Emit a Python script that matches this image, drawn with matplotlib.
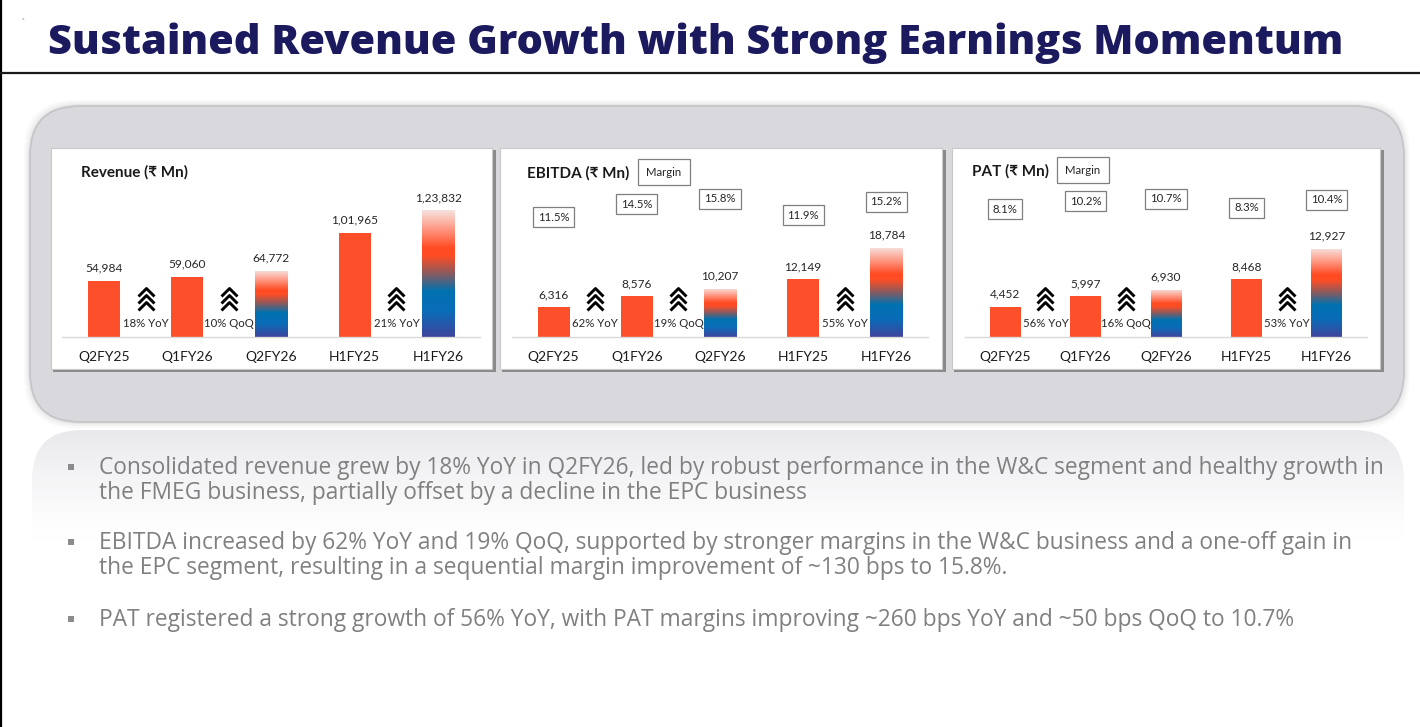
import matplotlib
matplotlib.use("Agg")
import matplotlib.pyplot as plt
import numpy as np
from matplotlib.patches import FancyBboxPatch, Rectangle
from matplotlib.colors import LinearSegmentedColormap
from matplotlib.path import Path
from matplotlib.transforms import blended_transform_factory

# ---- data ----
periods = ["Q2FY25", "Q1FY26", "Q2FY26", "H1FY25", "H1FY26"]
revenue = [54984, 59060, 64772, 101965, 123832]
ebitda = [6316, 8576, 10207, 12149, 18784]
pat = [4452, 5997, 6930, 8468, 12927]
ebitda_margin = ["11.5%", "14.5%", "15.8%", "11.9%", "15.2%"]
pat_margin = ["8.1%", "10.2%", "10.7%", "8.3%", "10.4%"]
revenue_growth = ["18% YoY", "10% QoQ", "21% YoY"]
ebitda_growth = ["62% YoY", "19% QoQ", "55% YoY"]
pat_growth = ["56% YoY", "16% QoQ", "53% YoY"]
growth_slots = [0.5, 1.5, 3.5]
highlight = [False, False, True, False, True]

title = "Sustained Revenue Growth with Strong Earnings Momentum"
bullets = [
    ["Consolidated revenue grew by 18% YoY in Q2FY26, led by robust performance in the W&C segment and healthy growth in",
     "the FMEG business, partially offset by a decline in the EPC business"],
    ["EBITDA increased by 62% YoY and 19% QoQ, supported by stronger margins in the W&C business and a one-off gain in",
     "the EPC segment, resulting in a sequential margin improvement of ~130 bps to 15.8%."],
    ["PAT registered a strong growth of 56% YoY, with PAT margins improving ~260 bps YoY and ~50 bps QoQ to 10.7%"],
]

W, H = 1420, 727
NAVY = "#1c1a5e"
BAR = "#fe4f2b"
GREY_TXT = "#808080"
FONT = ["Lato", "DejaVu Sans"]

grad_cmap = LinearSegmentedColormap.from_list("bar", [
    (0.00, "#3f449c"), (0.20, "#0a6cb8"), (0.36, "#0072b0"),
    (0.50, "#8a5a5e"), (0.64, "#ff4d24"), (0.70, "#ff4a22"),
    (0.86, "#ff9c88"), (1.00, "#f6e2df")])
chevron = Path([(-1, -0.5), (0, 0.5), (1, -0.5)],
               [Path.MOVETO, Path.LINETO, Path.LINETO])


def inr(n):
    # Indian digit grouping: 1,23,832
    s = str(n)
    if len(s) <= 3:
        return s
    head, tail = s[:-3], s[-3:]
    parts = []
    while len(head) > 2:
        parts.insert(0, head[-2:])
        head = head[:-2]
    if head:
        parts.insert(0, head)
    return ",".join(parts + [tail])


def px_axes(fig, x0, x1, ytop, ybot):
    return fig.add_axes([x0 / W, 1 - ybot / H, (x1 - x0) / W, (ybot - ytop) / H])


def draw_chart(ax, values, growth, ymax_factor, margins=None, margin_y=None):
    x = np.arange(len(values))
    bars = ax.bar(x, values, width=0.385, color=BAR, zorder=2)
    grad = np.linspace(0, 1, 256).reshape(-1, 1)
    for b, hl in zip(bars, highlight):
        if hl:
            b.set_facecolor("none")
            im = ax.imshow(grad, extent=(b.get_x(), b.get_x() + b.get_width(), 0, b.get_height()),
                           aspect="auto", cmap=grad_cmap, origin="lower", zorder=2)
            im.set_clip_path(b)
    for xi, v in zip(x, values):
        ax.annotate(inr(v), (xi, v), xytext=(0, 5), textcoords="offset points",
                    ha="center", va="bottom", fontsize=8.6, color="#262626", family=FONT)

    trans = blended_transform_factory(ax.transData, ax.transAxes)
    for xs, g in zip(growth_slots, growth):
        ax.plot([xs] * 3, [0.287, 0.242, 0.197], transform=trans, ls="none",
                marker=chevron, markersize=11.5, mfc="none", mec="black", mew=2.1)
        ax.text(xs, 0.089, g, transform=trans, ha="center", va="center",
                fontsize=8.2, color="#262626", family=FONT)

    if margins:
        for xi, m, my in zip(x, margins, margin_y):
            ax.text(xi, my, m, transform=trans, ha="center", va="center", fontsize=8.2,
                    color="#262626", family=FONT,
                    bbox=dict(boxstyle="square,pad=0.42", fc="white", ec="#7f7f7f", lw=0.9))

    ax.set_xlim(-0.5, len(values) - 0.5)
    ax.set_ylim(0, max(values) * ymax_factor)
    ax.set_xticks(x)
    ax.set_xticklabels(periods, fontsize=10, family=FONT, color="#1a1a1a")
    ax.tick_params(axis="x", length=0, pad=10)
    ax.set_yticks([])
    for s in ["top", "left", "right"]:
        ax.spines[s].set_visible(False)
    ax.spines["bottom"].set_color("#d9d9d9")
    ax.spines["bottom"].set_linewidth(1.0)
    ax.set_facecolor("none")


fig = plt.figure(figsize=(W / 100, H / 100), dpi=100)
fig.patch.set_facecolor("white")
bg = fig.add_axes([0, 0, 1, 1])
bg.set_xlim(0, W)
bg.set_ylim(H, 0)
bg.axis("off")

# slide frame lines
bg.plot([1, 1], [0, H], color="black", lw=1.6)
bg.plot([0, W], [73, 73], color="#1a1a1a", lw=1.6)
bg.text(22, 20, "a", fontsize=3, color="#999999")

# title, fitted to its width on the slide
t = bg.text(48, 43, title, ha="left", va="center", fontsize=30, fontweight="heavy",
            color=NAVY, family=["Open Sans", "DejaVu Sans"])
fig.canvas.draw()
tw = t.get_window_extent().width
t.set_fontsize(30 * 1295 / tw)

# grey rounded container with soft shadow
for grow, a in [(6, 0.05), (4, 0.08), (2, 0.12)]:
    bg.add_patch(FancyBboxPatch((30 - grow, 106 - grow), 1374 + 2 * grow, 316 + 2 * grow,
                                boxstyle="round,pad=0,rounding_size=52", fc="#9a9a9a",
                                ec="none", alpha=a, zorder=1))
bg.add_patch(FancyBboxPatch((30, 106), 1374, 316, boxstyle="round,pad=0,rounding_size=50",
                            fc="#d9d8dc", ec="#c4c4c8", lw=1.2, zorder=2))

# faded reflection below the container
refl = FancyBboxPatch((32, 430), 1372, 180, boxstyle="round,pad=0,rounding_size=50",
                      fc="none", ec="none", zorder=1)
bg.add_patch(refl)
fade = np.zeros((200, 1, 4))
fade[..., 0], fade[..., 1], fade[..., 2] = 0.915, 0.915, 0.932
fade[:, 0, 3] = np.clip(1 - np.linspace(0, 1, 200) / 0.62, 0, 1) ** 1.3
im = bg.imshow(fade, extent=(32, 1404, 610, 430), aspect="auto", zorder=1)
im.set_clip_path(refl)
bg.set_xlim(0, W)
bg.set_ylim(H, 0)

# white chart panels with dark shadow on the right / bottom
for x0, x1 in [(51, 492), (500, 942), (952, 1380)]:
    bg.add_patch(Rectangle((x0 + 2, 150), x1 - x0 + 2, 222, fc="#8a8a8a", ec="none", zorder=3))
    bg.add_patch(Rectangle((x0, 148), x1 - x0, 221, fc="white", ec="#c8c8c8", lw=0.8, zorder=4))

bg.text(81, 172, "Revenue (₹ Mn)", ha="left", va="center", fontsize=11, fontweight="bold",
        color="#1a1a1a", family=FONT, zorder=5)
bg.text(527, 173, "EBITDA (₹ Mn)", ha="left", va="center", fontsize=11, fontweight="bold",
        color="#1a1a1a", family=FONT, zorder=5)
bg.text(972, 171, "PAT (₹ Mn)", ha="left", va="center", fontsize=11, fontweight="bold",
        color="#1a1a1a", family=FONT, zorder=5)
for cx, cy in [(664, 172), (1083, 170)]:
    bg.text(cx, cy, "Margin", ha="center", va="center", fontsize=8.2, color="#262626",
            family=FONT, zorder=5,
            bbox=dict(boxstyle="square,pad=0.7", fc="white", ec="#7f7f7f", lw=0.9))

# bullet text
lines_y = [[467, 492], [542, 567], [619]]
first = None
for para, ys in zip(bullets, lines_y):
    bg.add_patch(Rectangle((68, ys[0] - 3), 6, 6, fc="#8c8c8c", ec="none", zorder=5))
    for line, y in zip(para, ys):
        tt = bg.text(99, y + 1, line, ha="left", va="center", fontsize=14, color=GREY_TXT,
                     family=["Open Sans", "DejaVu Sans"], zorder=5)
        if first is None:
            first = tt
fig.canvas.draw()
scale = 1292 / first.get_window_extent().width
for tt in bg.texts:
    if tt.get_color() == GREY_TXT:
        tt.set_fontsize(14 * scale)

# three bar charts
ax1 = px_axes(fig, 62, 480, 180, 337)
draw_chart(ax1, revenue, revenue_growth, 1.24)
ax2 = px_axes(fig, 512, 928, 180, 337)
draw_chart(ax2, ebitda, ebitda_growth, 1.76, ebitda_margin,
           [0.764, 0.847, 0.879, 0.777, 0.860])
ax3 = px_axes(fig, 965, 1367, 180, 337)
draw_chart(ax3, pat, pat_growth, 1.78, pat_margin,
           [0.815, 0.866, 0.879, 0.822, 0.873])
for a in (ax1, ax2, ax3):
    a.set_zorder(2)

fig.savefig("out.png", dpi=100)
